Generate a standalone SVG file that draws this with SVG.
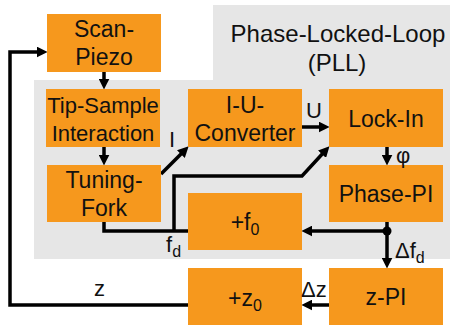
<svg xmlns="http://www.w3.org/2000/svg" width="450" height="328" viewBox="0 0 450 328">
<style>
.box{fill:#f6981d}
.t{font-family:"Liberation Sans",Arial,sans-serif;font-size:23px;fill:#111;text-anchor:middle}
.n{font-size:22px}
.h{font-size:24px}
.l{font-family:"Liberation Sans",Arial,sans-serif;font-size:22px;fill:#111}
.s{font-size:16px}
.c{fill:none;stroke:#000;stroke-width:3.5;stroke-linejoin:miter}
</style>
<defs>
<marker id="a" viewBox="0 0 10 10" refX="4" refY="5" markerWidth="11" markerHeight="11" markerUnits="userSpaceOnUse" orient="auto">
<path d="M0,0 L10,5 L0,10 z" fill="#000"/>
</marker>
</defs>
<rect width="450" height="328" fill="#fff"/>
<polygon points="34,80 213,80 213,5 450,5 450,259 34,259" fill="#e6e6e6"/>
<text class="t h" x="338" y="42">Phase-Locked-Loop</text>
<text class="t h" x="337" y="71">(PLL)</text>

<g id="connectors">
<path class="c" d="M104,72 V83" marker-end="url(#a)"/>
<path class="c" d="M104,147 V159" marker-end="url(#a)"/>
<path class="c" d="M161,174 L184,151" marker-end="url(#a)"/>
<path class="c" d="M302,127 H323" marker-end="url(#a)"/>
<path class="c" d="M387,147 V159" marker-end="url(#a)"/>
<path class="c" d="M104,222 V231 H188"/>
<path class="c" d="M174,231 V176 H302 L325,151" marker-end="url(#a)"/>
<path class="c" d="M387,222 V262" marker-end="url(#a)"/>
<path class="c" d="M387,231 H308" marker-end="url(#a)"/>
<circle cx="387" cy="231" r="4.5" fill="#000"/>
<path class="c" d="M329,305 H308" marker-end="url(#a)"/>
<path class="c" d="M188,305 H10 V52 H41" marker-end="url(#a)"/>
</g>

<g id="scan-piezo"><rect class="box" x="47" y="14" width="114" height="58"/><text class="t" x="104" y="37">Scan-</text><text class="t" x="104" y="65">Piezo</text></g>
<g id="tip-sample"><rect class="box" x="46" y="89" width="114" height="58"/><text class="t n" x="103" y="113">Tip-Sample</text><text class="t n" x="103" y="141">Interaction</text></g>
<g id="tuning-fork"><rect class="box" x="47" y="165" width="114" height="57"/><text class="t" x="104" y="188">Tuning-</text><text class="t" x="104" y="216">Fork</text></g>
<g id="iu-converter"><rect class="box" x="188" y="89" width="114" height="58"/><text class="t" x="245" y="113">I-U-</text><text class="t" x="245" y="141">Converter</text></g>
<g id="lock-in"><rect class="box" x="329" y="89" width="114" height="58"/><text class="t" x="386" y="127">Lock-In</text></g>
<g id="phase-pi"><rect class="box" x="329" y="165" width="114" height="57"/><text class="t" x="386" y="202">Phase-PI</text></g>
<g id="plus-f0"><rect class="box" x="188" y="193" width="114" height="57"/><text class="t" x="245" y="230">+f<tspan class="s" dy="5">0</tspan></text></g>
<g id="plus-z0"><rect class="box" x="188" y="268" width="114" height="57"/><text class="t" x="245" y="306">+z<tspan class="s" dy="5">0</tspan></text></g>
<g id="z-pi"><rect class="box" x="329" y="268" width="114" height="57"/><text class="t" x="386" y="305">z-PI</text></g>

<g id="labels">
<text class="l" x="169" y="147">I</text>
<text class="l" x="306" y="118">U</text>
<text class="l" x="396" y="163">φ</text>
<text class="l" x="166" y="252">f<tspan class="s" dy="5">d</tspan></text>
<text class="l" x="395" y="258">Δf<tspan class="s" dy="5">d</tspan></text>
<text class="l" x="94" y="296">z</text>
<text class="l" x="301" y="297">Δz</text>
</g>
</svg>
